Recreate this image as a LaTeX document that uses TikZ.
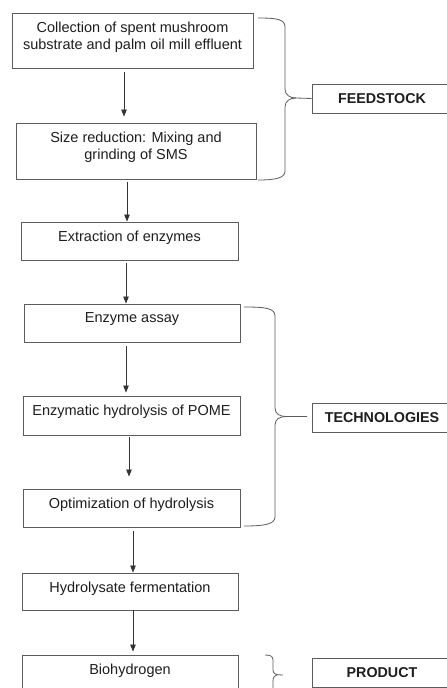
\documentclass[tikz,border=0pt]{standalone}
\usepackage{fontspec}
\setmainfont{Liberation Sans}
\usetikzlibrary{arrows.meta}
\definecolor{boxc}{HTML}{5C5C5C}
\definecolor{arrc}{HTML}{333333}
\definecolor{txtc}{HTML}{1E1E1E}
\begin{document}
\begin{tikzpicture}[x=1pt,y=-1pt,
  box/.style={draw=boxc, line width=0.9pt, inner sep=0pt, fill=none},
  txt/.style={inner sep=0pt, align=center, text=txtc, anchor=north, yshift=-9pt,
    font=\fontsize{14.5}{17.7}\selectfont},
  lbl/.style={draw=boxc, line width=0.9pt, inner sep=0pt, minimum width=140pt,
    minimum height=29pt, text=txtc, font=\fontsize{14.3}{17}\selectfont\bfseries},
  arr/.style={draw=arrc, line width=0.8pt, -{Triangle[length=7pt,width=5.5pt]}},
  brace/.style={draw=boxc, line width=0.8pt}]
\useasboundingbox (0,0) rectangle (447,688);
\clip (0,0) rectangle (447,688);
\fill[white] (0,0) rectangle (447,688);

% main boxes
\node[box, minimum width=241pt, minimum height=55pt] (b1) at (132.5,40.5) {};
\node[box, minimum width=240pt, minimum height=56pt] (b2) at (136,151) {};
\node[box, minimum width=217pt, minimum height=38pt] (b3) at (129.5,241) {};
\node[box, minimum width=216pt, minimum height=38pt] (b4) at (132,323) {};
\node[box, minimum width=217pt, minimum height=39pt] (b5) at (131.5,415.5) {};
\node[box, minimum width=217pt, minimum height=38pt] (b6) at (131.5,508) {};
\node[box, minimum width=216pt, minimum height=37pt] (b7) at (130,591.5) {};
\node[box, minimum width=216pt, minimum height=60pt] (b8) at (130,685) {};

% texts
\node[txt] (t1) at (b1.north) {Collection of spent mushroom\\substrate and palm oil mill effluent};
\node[txt] (t2) at (b2.north) {Size reduction: Mixing and\\grinding of SMS};
\node[txt] (t3) at (b3.north) {Extraction of enzymes};
\node[txt] (t4) at (b4.north) {Enzyme assay};
\node[txt] (t5) at (b5.north) {Enzymatic hydrolysis of POME};
\node[txt] (t6) at (b6.north) {Optimization of hydrolysis};
\node[txt] (t7) at (b7.north) {Hydrolysate fermentation};
\node[txt] (t8) at (b8.north) {Biohydrogen};

% label boxes
\node[lbl] (lf) at (382,98.5) {FEEDSTOCK};
\node[lbl] (lt) at (382,417.5) {TECHNOLOGIES};
\node[lbl] (lp) at (382,672.5) {PRODUCT};

% arrows
\draw[arr] ([xshift=-8.5pt,yshift=-4pt]b1.south) -- ([xshift=-12pt,yshift=6pt]b2.north);
\draw[arr] ([xshift=-9pt,yshift=-3pt]b2.south) -- ([xshift=-2.5pt]b3.north);
\draw[arr] ([xshift=-3.5pt,yshift=-3pt]b3.south) -- ([xshift=-6pt]b4.north);
\draw[arr] ([xshift=-6pt,yshift=-4pt]b4.south) -- ([xshift=-5.5pt,yshift=3pt]b5.north);
\draw[arr] ([xshift=-2.5pt,yshift=-2pt]b5.south) -- ([xshift=-2.5pt,yshift=12pt]b6.north);
\draw[arr] ([xshift=1.5pt,yshift=-4pt]b6.south) -- ([xshift=3pt]b7.north);
\draw[arr] ([xshift=3pt]b7.south) -- ([xshift=3pt,yshift=3pt]b8.north);

% braces
\coordinate (fb1) at (258,18);
\coordinate (fb2) at (258,180);
\draw[brace] (fb1) .. controls (276,18) and (285,19) .. (285,27) -- (285,89)
  .. controls (285,95) and (290,98) .. (296,98) -- (lf.west);
\draw[brace] (296,98) .. controls (290,98) and (285,101) .. (285,107) -- (285,171)
  .. controls (285,178) and (276,180) .. (fb2);

\coordinate (tb1) at (244,307);
\coordinate (tb2) at (244,526);
\coordinate (tb3) at (307,416.5);
\draw[brace] (tb1) .. controls (265,307) and (275,308) .. (275,316) -- (275,408)
  .. controls (275,414) and (280,416.5) .. (286,416.5) -- (tb3);
\draw[brace] (286,416.5) .. controls (280,416.5) and (275,419) .. (275,425) -- (275,517)
  .. controls (275,524) and (265,526) .. (tb2);

\coordinate (pb1) at (265,655);
\coordinate (pb2) at (283,675);
\draw[brace] (pb1) .. controls (270,655) and (273,656) .. (273,660) -- (273,670)
  .. controls (273,674) and (276,675) .. (pb2);
\draw[brace] (277,675) .. controls (275,675) and (273,677) .. (273,681) -- (273,700);
\end{tikzpicture}
\end{document}
